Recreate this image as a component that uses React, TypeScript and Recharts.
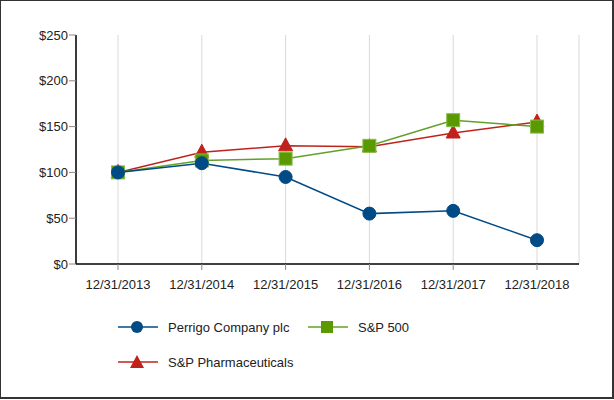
import React from 'react';
import { LineChart, Line, XAxis, YAxis, CartesianGrid, Legend } from 'recharts';

const categories = ['12/31/2013', '12/31/2014', '12/31/2015', '12/31/2016', '12/31/2017', '12/31/2018'];
const perrigo = [100, 110, 95, 55, 58, 26];
const sp500 = [100, 113, 115, 129, 157, 150];
const spPharma = [100, 122, 129, 128, 143, 155];
const yTicks = [0, 50, 100, 150, 200, 250];

const BLUE = '#004a85';
const GREEN_LINE = '#62a02a';
const GREEN_FILL = '#5a9a00';
const RED = '#c0221b';

const data = categories.map((c, i) => ({
  date: c,
  perrigo: perrigo[i],
  sp500: sp500[i],
  spPharma: spPharma[i],
}));

const CircleDot = (props: any) => {
  const { cx, cy, index } = props;
  return <circle key={`c-${index}`} cx={cx} cy={cy} r={6.5} fill={BLUE} stroke={BLUE} strokeWidth={1} />;
};

const SquareDot = (props: any) => {
  const { cx, cy, index } = props;
  return (
    <rect key={`s-${index}`} x={cx - 6.5} y={cy - 6.5} width={13} height={13} fill={GREEN_FILL} stroke="#86be4a" strokeWidth={1} />
  );
};

const TriangleDot = (props: any) => {
  const { cx, cy, index } = props;
  return (
    <polygon key={`t-${index}`} points={`${cx},${cy - 8} ${cx + 7},${cy + 5} ${cx - 7},${cy + 5}`} fill={RED} stroke={RED} strokeWidth={1} />
  );
};

const legendPos: Record<string, [number, number]> = {
  perrigo: [118, 327],
  sp500: [308, 327],
  spPharma: [118, 362],
};

const LegendIcon = ({ kind, color }: { kind: string; color: string }) => (
  <svg width={40} height={16} style={{ display: 'block' }}>
    <line x1={0} y1={8} x2={40} y2={8} stroke={color} strokeWidth={1.5} />
    {kind === 'perrigo' && <circle cx={19} cy={8} r={6} fill={BLUE} />}
    {kind === 'sp500' && <rect x={13} y={2} width={12} height={12} fill={GREEN_FILL} />}
    {kind === 'spPharma' && <polygon points="19,1 26,14 12,14" fill={RED} />}
  </svg>
);

const renderLegend = (props: any) => {
  const { payload } = props;
  return (
    <div style={{ position: 'relative', width: 614, height: 400 }}>
      {(payload || []).map((entry: any) => {
        const key = entry.dataKey as string;
        const pos = legendPos[key];
        if (!pos) return null;
        return (
          <div
            key={key}
            style={{
              position: 'absolute',
              left: pos[0],
              top: pos[1] - 8,
              height: 16,
              display: 'flex',
              alignItems: 'center',
              whiteSpace: 'nowrap',
            }}
          >
            <LegendIcon kind={key} color={entry.color} />
            <span style={{ marginLeft: 10, fontSize: 13, color: '#222', fontFamily: '"Liberation Sans", Arial, sans-serif' }}>
              {entry.value}
            </span>
          </div>
        );
      })}
    </div>
  );
};

export default function App() {
  return (
    <div
      style={{
        position: 'absolute',
        left: 0,
        top: 0,
        width: 614,
        height: 400,
        background: '#fff',
        fontFamily: '"Liberation Sans", Arial, sans-serif',
      }}
    >
      <div
        style={{
          position: 'absolute',
          left: 0,
          top: 0,
          width: 611,
          height: 396,
          borderTop: '1px solid #333',
          borderLeft: '1px solid #333',
          borderRight: '2px solid #333',
          borderBottom: '2px solid #333',
        }}
      />
      <LineChart
        width={614}
        height={400}
        data={data}
        margin={{ top: 35, right: 35, bottom: 96, left: 0 }}
        style={{ position: 'absolute', left: 0, top: 0 }}
      >
        <CartesianGrid horizontal={false} vertical={true} stroke="#d9d9d9" strokeWidth={1} />
        <XAxis
          dataKey="date"
          height={40}
          interval={0}
          padding={{ left: 42, right: 42 }}
          tickSize={6}
          tickMargin={10}
          axisLine={{ stroke: '#000', strokeWidth: 1.5 }}
          tickLine={{ stroke: '#888' }}
          tick={{ fill: '#222', fontSize: 13 }}
        />
        <YAxis
          width={76}
          domain={[0, 250]}
          ticks={yTicks}
          interval={0}
          tickSize={7}
          tickMargin={1}
          tickFormatter={(v: number) => `$${v}`}
          axisLine={{ stroke: '#000', strokeWidth: 1.5 }}
          tickLine={{ stroke: '#888' }}
          tick={{ fill: '#222', fontSize: 13 }}
        />
        <Legend
          layout="horizontal"
          verticalAlign="middle"
          align="center"
          wrapperStyle={{ left: 0, top: 0, width: 614, height: 400, pointerEvents: 'none' }}
          content={renderLegend}
        />
        <Line
          name="S&P Pharmaceuticals"
          dataKey="spPharma"
          stroke={RED}
          strokeWidth={1.5}
          dot={TriangleDot}
          activeDot={false}
          isAnimationActive={false}
        />
        <Line
          name="S&P 500"
          dataKey="sp500"
          stroke={GREEN_LINE}
          strokeWidth={1.5}
          dot={SquareDot}
          activeDot={false}
          isAnimationActive={false}
        />
        <Line
          name="Perrigo Company plc"
          dataKey="perrigo"
          stroke={BLUE}
          strokeWidth={1.5}
          dot={CircleDot}
          activeDot={false}
          isAnimationActive={false}
        />
      </LineChart>
    </div>
  );
}
